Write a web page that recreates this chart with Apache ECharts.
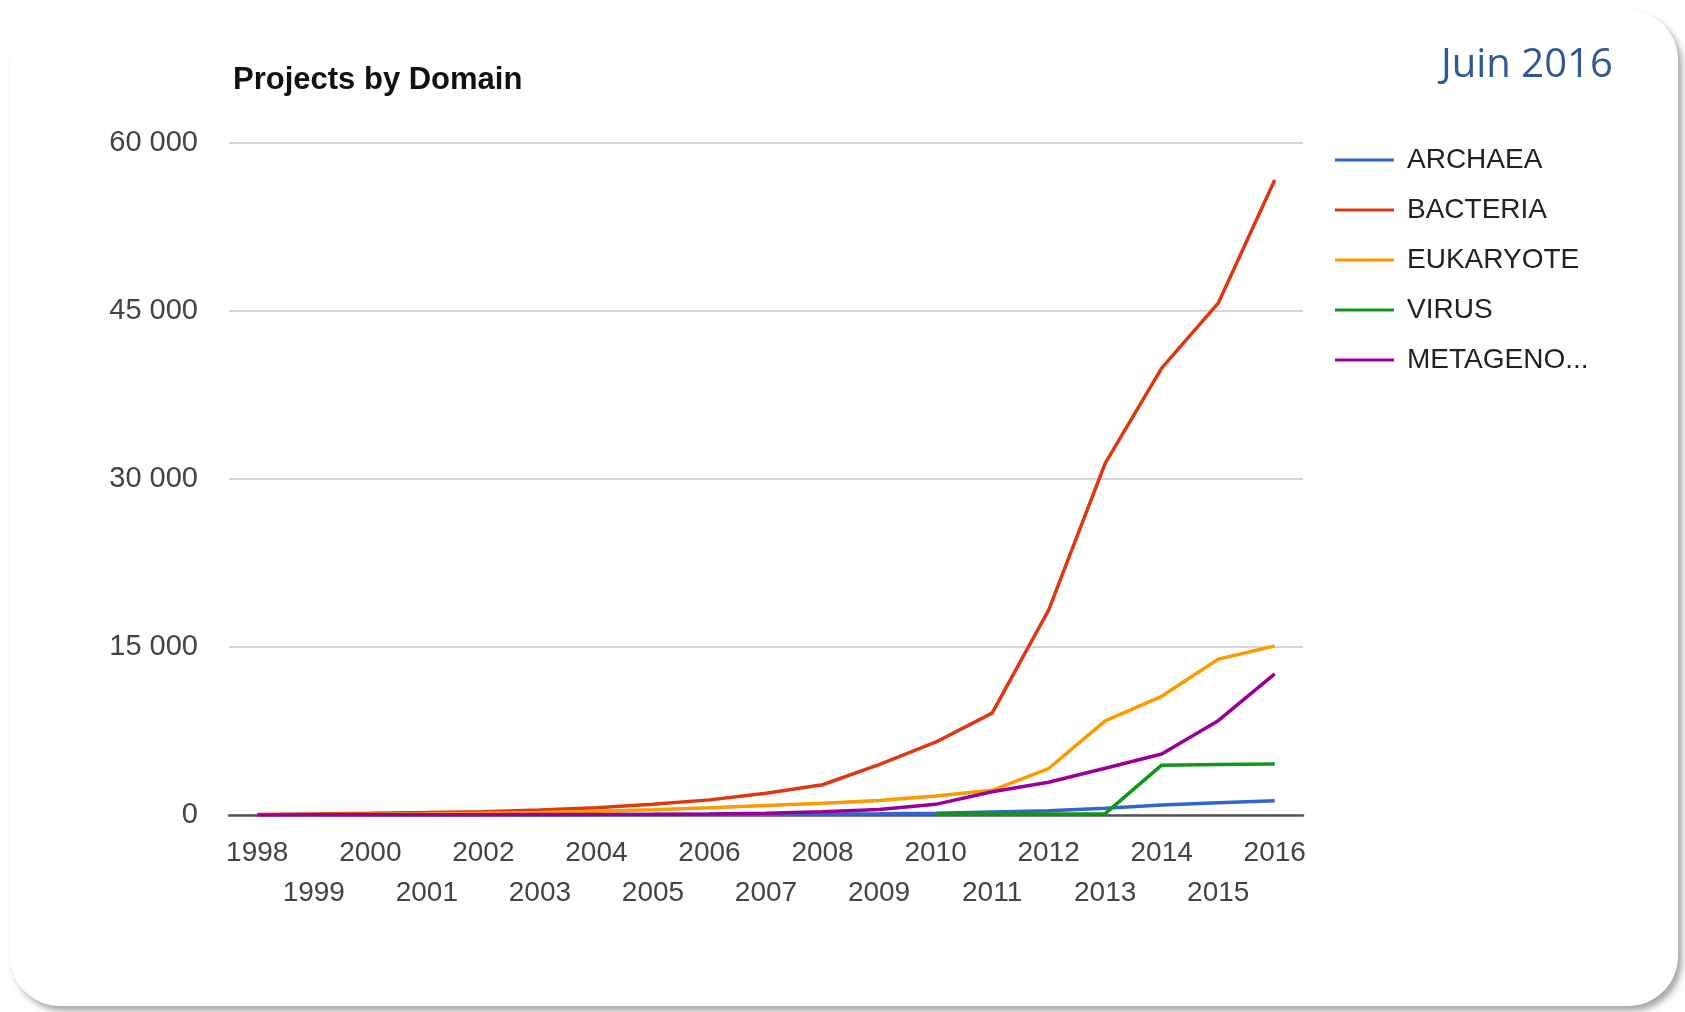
<!DOCTYPE html>
<html>
<head>
<meta charset="utf-8">
<title>Projects by Domain</title>
<script src="https://cdn.jsdelivr.net/npm/echarts@6/dist/echarts.min.js"></script>
<style>
  html, body { margin: 0; padding: 0; background: #ffffff; }
  .card {
    position: absolute; left: 10px; top: 10px; width: 1668px; height: 996px;
    background: #ffffff; border-radius: 50px;
    box-shadow: 4px 5px 6px rgba(0, 0, 0, 0.35);
  }
  #chart { position: absolute; left: 0; top: 0; width: 1685px; height: 1012px; }
</style>
</head>
<body>
<div class="card"></div>
<div id="chart"></div>
<script>
// years on the x axis
var years = ['1998', '1999', '2000', '2001', '2002', '2003', '2004', '2005', '2006', '2007',
  '2008', '2009', '2010', '2011', '2012', '2013', '2014', '2015', '2016']

// projects per domain
var archaea = [5, 10, 15, 20, 25, 30, 40, 50, 60, 75, 90, 110, 150, 270, 390, 600, 890, 1100, 1280]
var bacteria = [50, 100, 150, 220, 300, 450, 650, 950, 1350, 1950, 2700, 4500, 6500, 9100, 18300, 31400, 39900, 45700, 56700]
var eukaryote = [20, 40, 70, 110, 160, 230, 330, 470, 650, 850, 1050, 1300, 1700, 2200, 4150, 8400, 10600, 13900, 15100]
var virus = [null, null, null, null, null, null, null, null, null, null, null, null, 80, 90, 100, 120, 4450, 4520, 4560]
var metagenome = [10, 15, 20, 25, 30, 40, 50, 60, 80, 150, 280, 500, 950, 2080, 2920, 4170, 5450, 8420, 12600]

var domainNames = ['ARCHAEA', 'BACTERIA', 'EUKARYOTE', 'VIRUS', 'METAGENOME']
var domainColors = ['#3366cc', '#dc3912', '#ff9900', '#109618', '#990099']

var chart = echarts.init(document.getElementById('chart'))

function lineSeries(name, data, color) {
  return {
    name: name,
    type: 'line',
    data: data,
    showSymbol: false,
    connectNulls: false,
    lineStyle: { color: color, width: 3.5 },
    itemStyle: { color: color },
    animation: false
  }
}

chart.setOption({
  textStyle: { fontFamily: 'Liberation Sans, Arial, sans-serif' },
  title: [{
    text: 'Projects by Domain',
    left: 228,
    top: 60,
    textStyle: { fontSize: 31, fontWeight: 'bold', color: '#111' }
  }, {
    text: 'Juin 2016',
    left: 1436,
    top: 41,
    textStyle: { fontSize: 40, fontWeight: 'normal', color: '#2f5a92', fontFamily: 'Open Sans' }
  }],
  legend: {
    orient: 'vertical',
    left: 1330,
    top: 140,
    icon: 'rect',
    itemWidth: 59,
    itemHeight: 3,
    itemGap: 20,
    data: domainNames,
    formatter: function (name) {
      return name.length > 9 ? name.slice(0, 8) + '...' : name
    },
    textStyle: { fontSize: 28, color: '#222', lineHeight: 30, padding: [0, 0, 0, 8] }
  },
  grid: { left: 229, right: 382, top: 143, bottom: 197, containLabel: false },
  xAxis: {
    type: 'category',
    data: years,
    boundaryGap: true,
    axisTick: { show: false },
    axisLine: { lineStyle: { color: '#555', width: 2.5 } },
    axisLabel: {
      interval: 0,
      fontSize: 28,
      color: '#444',
      lineHeight: 40,
      margin: 18,
      formatter: function (value, idx) {
        return idx % 2 === 1 ? '\n' + value : value
      }
    }
  },
  yAxis: {
    type: 'value',
    min: 0,
    max: 60000,
    interval: 15000,
    axisLine: { show: false },
    axisTick: { show: false },
    splitLine: { lineStyle: { color: '#d6d6d6', width: 2 } },
    axisLabel: {
      fontSize: 29,
      color: '#444',
      margin: 31,
      formatter: function (v) {
        return String(v).replace(/\B(?=(\d{3})+(?!\d))/g, ' ')
      }
    }
  },
  series: [
    lineSeries(domainNames[0], archaea, domainColors[0]),
    lineSeries(domainNames[1], bacteria, domainColors[1]),
    lineSeries(domainNames[2], eukaryote, domainColors[2]),
    lineSeries(domainNames[3], virus, domainColors[3]),
    lineSeries(domainNames[4], metagenome, domainColors[4])
  ]
})
</script>
</body>
</html>
